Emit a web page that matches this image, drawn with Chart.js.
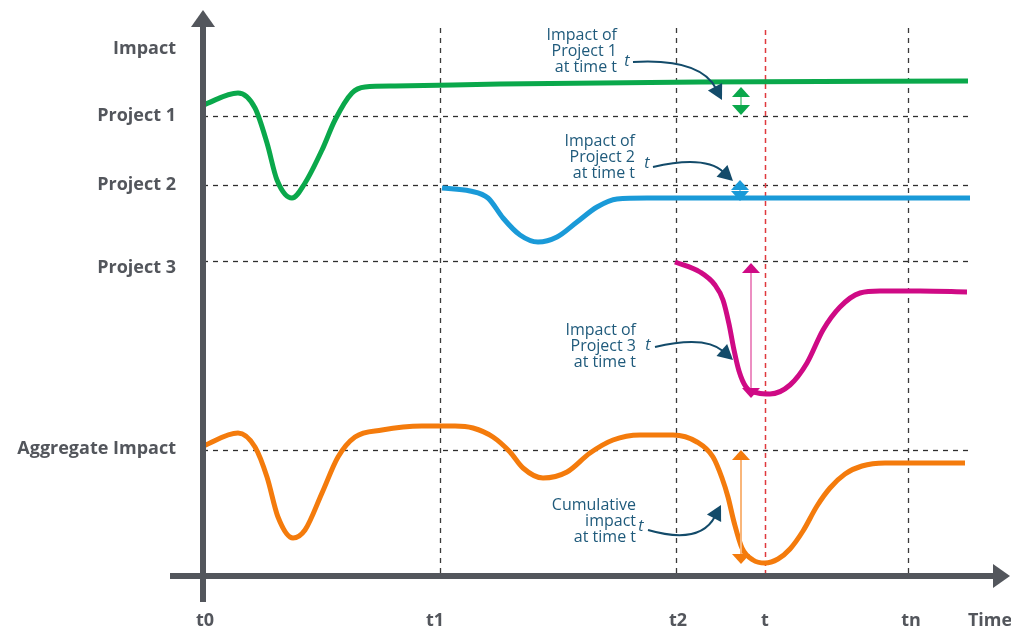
<!DOCTYPE html>
<html><head><meta charset="utf-8">
<script src="https://cdn.jsdelivr.net/npm/chart.js@4.4.0/dist/chart.umd.min.js"></script>
<style>html,body{margin:0;padding:0;background:#fff;} #wrap{width:1011px;height:630px;}</style>
</head><body><div id="wrap"><canvas id="c" width="1011" height="630"></canvas></div>
<script>
// ---- data (time units on x, impact units on y) ----
const project1X = [0,35,52,64,74,89,102,119,132,149,162,192,297,497,765];
const project1Y = [471,483,468,433,396,378,393,426,456,483,489,490,492,494,495];
const project2X = [239,267,285,300,317,335,354,374,394,414,444,597,767];
const project2Y = [388,385,378,358,341,334,339,354,369,377,378,378,378];
const project3X = [472,497,512,520,526,531,536,543,555,567,587,604,620,637,657,677,717,764];
const project3Y = [314,304,291,276,252,226,205,189,183,182,191,213,246,269,283,285,285,284];
const aggregateX = [0,35,52,64,75,90,102,119,135,152,179,219,252,270,290,307,320,340,364,387,410,437,470,494,510,519,525,531,539,550,562,575,587,600,614,627,642,659,682,762];
const aggregateY = [130,143,129,99,59,38,46,83,119,139,146,150,150,148,139,124,108,98,104,123,136,141,141,134,119,98,79,54,28,16,13,17,27,45,70,88,102,110,113,113];

const yTickValues = [527,460,391,308,127];
const yTickLabels = ['Impact','Project 1','Project 2','Project 3','Aggregate Impact'];
const xTickValues = [2,232,475,562,708,787];
const xTickLabels = ['t0','t1','t2','t','tn','Time'];

const refLevels = [460,391,315,126];     // baseline of each project / aggregate
const refTimes = [237,473,705];          // t1, t2, tn
const tNow = 562;                        // time t
const refLineEnd = 769;
const refLineTop = 548;

// impact at time t (double arrows): x, top, bottom
const impactX = [538,537,548,538];
const impactTop = [489,396,313,126];
const impactBottom = [461,375,178,12];

// annotation texts
const noteLines = [
  ['Impact of','Project 1','at time t'],
  ['Impact of','Project 2','at time t'],
  ['Impact of','Project 3','at time t'],
  ['Cumulative','impact','at time t']
];
const noteX = [414,432,433,433];
const noteY = [541,435,246,71];
const pointerStartX = [430,450,452,445];
const pointerStartY = [514,409,229,46];
const pointerCtrlX = [497,502,502,497];
const pointerCtrlY = [518,421,241,31];
const pointerEndX = [519,530,530,518];
const pointerEndY = [476,395,216,71];
const tMarkX = [424,444,445,438];
const tMarkY = [515,413,231,50];

const COLORS = {green:'#0aa84b', blue:'#1a9ad8', magenta:'#cf0a85', orange:'#f47b0c'};
const SHAFT = ['#86d4a2','#8ccbec','#ec8fc2','#f9b67a'];
const HEADS = [COLORS.green, COLORS.blue, COLORS.magenta, COLORS.orange];
const AXIS = '#53565c';
const NOTE = '#1f5a7b';
const POINTER = '#134b6a';

const pts = (xs, ys) => xs.map((x,i)=>({x, y: ys[i]}));
const ds = (label, xs, ys, color) => ({label, data: pts(xs,ys), borderColor: color, backgroundColor: color,
  borderWidth: 5, pointRadius: 0, fill: false, cubicInterpolationMode: 'monotone', borderCapStyle: 'butt'});

const diagram = {
  id: 'diagram',
  beforeDatasetsDraw(chart){
    const {ctx, scales:{x,y}} = chart;
    ctx.save();
    ctx.lineWidth = 1.3; ctx.setLineDash([5,5]); ctx.strokeStyle = '#2e2e2e';
    refLevels.forEach(v=>{
      const py = Math.round(y.getPixelForValue(v))+0.5;
      ctx.beginPath(); ctx.moveTo(x.getPixelForValue(0),py); ctx.lineTo(x.getPixelForValue(refLineEnd),py); ctx.stroke();
    });
    ctx.strokeStyle = '#3a3a3a';
    refTimes.forEach(v=>{
      const px = Math.round(x.getPixelForValue(v))+0.5;
      ctx.beginPath(); ctx.moveTo(px,y.getPixelForValue(refLineTop)); ctx.lineTo(px,y.getPixelForValue(0)); ctx.stroke();
    });
    ctx.strokeStyle = '#e0393e'; ctx.lineWidth = 1.5; ctx.setLineDash([5,4]);
    const pt = Math.round(x.getPixelForValue(tNow))+0.5;
    ctx.beginPath(); ctx.moveTo(pt,y.getPixelForValue(refLineTop)+2); ctx.lineTo(pt,y.getPixelForValue(0)); ctx.stroke();
    ctx.restore();
  },
  afterDatasetsDraw(chart){
    const {ctx, chartArea:a, scales:{x,y}} = chart;
    ctx.save();
    // axes
    ctx.fillStyle = AXIS;
    const ax = a.left, ay = a.bottom;
    ctx.fillRect(ax-3, a.top+10, 6, ay - a.top - 10 + 26);
    ctx.beginPath(); ctx.moveTo(ax, a.top-6); ctx.lineTo(ax+12, a.top+11); ctx.lineTo(ax-12, a.top+11); ctx.closePath(); ctx.fill();
    ctx.fillRect(ax-33, ay-3, a.right - ax + 33 - 10, 6);
    ctx.beginPath(); ctx.moveTo(a.right+7, ay); ctx.lineTo(a.right-10, ay-12); ctx.lineTo(a.right-10, ay+12); ctx.closePath(); ctx.fill();

    // impact arrows at time t
    impactX.forEach((v,i)=>{
      const px = x.getPixelForValue(v), t = y.getPixelForValue(impactTop[i]), b = y.getPixelForValue(impactBottom[i]);
      const h = Math.min(10, (b-t)/2-0.5), w = 9;
      ctx.strokeStyle = SHAFT[i]; ctx.lineWidth = 2;
      ctx.beginPath(); ctx.moveTo(px, t+h); ctx.lineTo(px, b-h); ctx.stroke();
      ctx.fillStyle = HEADS[i];
      ctx.beginPath(); ctx.moveTo(px,t); ctx.lineTo(px+w,t+h); ctx.lineTo(px-w,t+h); ctx.closePath(); ctx.fill();
      ctx.beginPath(); ctx.moveTo(px,b); ctx.lineTo(px+w,b-h); ctx.lineTo(px-w,b-h); ctx.closePath(); ctx.fill();
    });

    // pointers
    pointerStartX.forEach((v,i)=>{
      const sx = x.getPixelForValue(v), sy = y.getPixelForValue(pointerStartY[i]);
      const cx = x.getPixelForValue(pointerCtrlX[i]), cy = y.getPixelForValue(pointerCtrlY[i]);
      const ex = x.getPixelForValue(pointerEndX[i]), ey = y.getPixelForValue(pointerEndY[i]);
      let dx = ex-cx, dy = ey-cy; const L = Math.hypot(dx,dy); dx/=L; dy/=L;
      const hl = 15, hw = 8;
      const bx = ex - dx*hl, by = ey - dy*hl;
      ctx.strokeStyle = POINTER; ctx.lineWidth = 2;
      ctx.beginPath(); ctx.moveTo(sx,sy); ctx.quadraticCurveTo(cx,cy,bx+dx*2,by+dy*2); ctx.stroke();
      ctx.fillStyle = POINTER;
      ctx.beginPath(); ctx.moveTo(ex,ey); ctx.lineTo(bx - dy*hw, by + dx*hw); ctx.lineTo(bx + dy*hw, by - dx*hw); ctx.closePath(); ctx.fill();
    });

    // notes
    ctx.fillStyle = NOTE; ctx.textAlign = 'right'; ctx.textBaseline = 'middle';
    ctx.font = '16px "Open Sans"';
    noteLines.forEach((lines,i)=>{
      const px = x.getPixelForValue(noteX[i]), py = y.getPixelForValue(noteY[i]);
      lines.forEach((s,j)=>ctx.fillText(s, px, py + j*16));
    });
    ctx.font = 'italic 16px "Open Sans"'; ctx.textAlign = 'center';
    tMarkX.forEach((v,i)=>ctx.fillText('t', x.getPixelForValue(v), y.getPixelForValue(tMarkY[i])));
    ctx.restore();
  }
};

new Chart(document.getElementById('c').getContext('2d'), {
  type: 'line',
  data: { datasets: [
    ds('Project 1', project1X, project1Y, COLORS.green),
    ds('Project 2', project2X, project2Y, COLORS.blue),
    ds('Project 3', project3X, project3Y, COLORS.magenta),
    ds('Aggregate Impact', aggregateX, aggregateY, COLORS.orange)
  ]},
  options: {
    responsive: false, animation: false, devicePixelRatio: 1,
    layout: { padding: { top: 16, right: 8, left: 0, bottom: 0 } },
    plugins: { legend: { display: false }, tooltip: { enabled: false } },
    scales: {
      x: { type: 'linear', min: 0, max: 800,
        grid: { display: false, drawTicks: false }, border: { display: false },
        afterBuildTicks: s => { s.ticks = xTickValues.map(v=>({value:v})); },
        afterFit: s => { s.height = 54; s.paddingLeft = 0; s.paddingRight = 0; },
        ticks: { autoSkip: false, maxRotation: 0, minRotation: 0, padding: 34, color: AXIS,
          font: { family: 'Open Sans', weight: 'bold', size: 18 },
          callback: (v,i) => xTickLabels[i] } },
      y: { type: 'linear', min: 0, max: 560,
        grid: { display: false, drawTicks: false }, border: { display: false },
        afterBuildTicks: s => { s.ticks = yTickValues.map(v=>({value:v})); },
        afterFit: s => { s.width = 203; s.paddingTop = 0; s.paddingBottom = 0; },
        ticks: { autoSkip: false, padding: 27, color: AXIS,
          font: { family: 'Open Sans', weight: 'bold', size: 18 },
          callback: (v,i) => yTickLabels[i] } }
    }
  },
  plugins: [diagram]
});
</script>
</body></html>
